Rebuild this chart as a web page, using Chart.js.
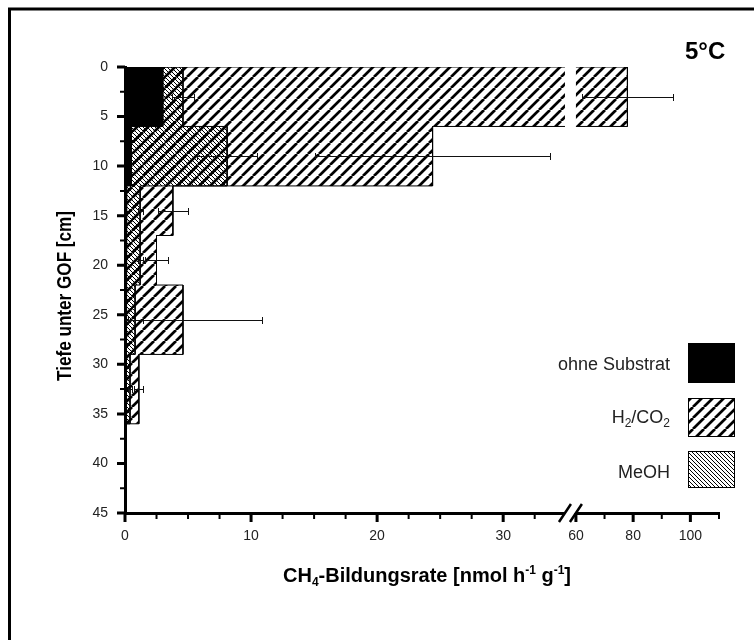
<!DOCTYPE html>
<html>
<head>
<meta charset="utf-8">
<script src="https://cdn.jsdelivr.net/npm/chart.js@4.4.0/dist/chart.umd.min.js"></script>
<style>
html, body { margin: 0; padding: 0; background: #fff; }
</style>
</head>
<body>
<canvas id="mycanvas" width="754" height="640"></canvas>
<script>
// depth classes (cm) and CH4 production rates (nmol h-1 g-1)
var depthEdges = [0, 6, 12, 17, 22, 29, 36];
var ohneSubstrat = [3.0, 0.5, 0.15, 0.1, 0.1, 0.1];
var h2co2 = [78, 24.4, 3.8, 2.5, 4.6, 1.1];
var h2co2Err = [16, 9.3, 1.2, 0.9, 6.3, 0.35];
var meoh = [4.6, 8.1, 1.2, 1.2, 0.8, 0.4];
var meohErr = [0.9, 2.4, 0.2, 0.2, 0.6, 0.15];
var seriesNames = ['ohne Substrat', 'H_{2}/CO_{2}', 'MeOH'];

var yTickValues = [0, 5, 10, 15, 20, 25, 30, 35, 40, 45];
var yMinorValues = [2.5, 7.5, 12.5, 17.5, 22.5, 27.5, 32.5, 37.5, 42.5];
var xTickValues = [0, 10, 20, 30, 60, 80, 100];
var xMinorValues = [2.5, 5, 7.5, 12.5, 15, 17.5, 22.5, 25, 27.5, 32.5, 70, 90, 110];

// broken x axis: 0..breakLow, then breakHigh..xEnd compressed
var breakLow = 34.9, breakHigh = 60, xEnd = 110;
var gapUnits = 0.87, highScale = 0.227;

function disp(v) {
	if (v <= breakLow) return v;
	return breakLow + gapUnits + (v - breakHigh) * highScale;
}

function stepShape(vals) {
	var pts = [{x: 0, y: depthEdges[0]}];
	for (var i = 0; i < vals.length; i++) {
		pts.push({x: disp(vals[i]), y: depthEdges[i]});
		pts.push({x: disp(vals[i]), y: depthEdges[i + 1]});
	}
	pts.push({x: 0, y: depthEdges[vals.length]});
	pts.push({x: 0, y: depthEdges[0]});
	return pts;
}

var canvas = document.getElementById('mycanvas');
var ctx = canvas.getContext('2d');

function makeHatch(size, lw, forward, bg) {
	var t = document.createElement('canvas');
	t.width = size; t.height = size;
	var g = t.getContext('2d');
	if (bg) { g.fillStyle = bg; g.fillRect(0, 0, size, size); }
	g.strokeStyle = '#000';
	g.lineWidth = lw;
	g.beginPath();
	for (var k = -1; k <= 1; k++) {
		if (forward) { g.moveTo(k * size, size); g.lineTo(k * size + size, 0); }
		else { g.moveTo(k * size, 0); g.lineTo(k * size + size, size); }
	}
	g.stroke();
	return ctx.createPattern(t, 'repeat');
}

var h2Pattern = makeHatch(11, 2.7, true, '#fff');
var meohPattern = makeHatch(4, 1, false, null);
var seriesFills = ['#000', h2Pattern, meohPattern];

function parseRich(str) {
	var parts = [], re = /([_^])\{([^}]*)\}/g, last = 0, m;
	while ((m = re.exec(str))) {
		if (m.index > last) parts.push({t: str.slice(last, m.index), k: 0});
		parts.push({t: m[2], k: m[1] === '_' ? 1 : -1});
		last = re.lastIndex;
	}
	if (last < str.length) parts.push({t: str.slice(last), k: 0});
	return parts;
}

function drawRich(c, str, x, y, align, base, small, subDy, supDy) {
	var parts = parseRich(str), w = 0;
	parts.forEach(function(p) {
		c.font = p.k ? small : base;
		p.w = c.measureText(p.t).width;
		w += p.w;
	});
	var cx = align === 'right' ? x - w : (align === 'center' ? x - w / 2 : x);
	c.textAlign = 'left';
	c.textBaseline = 'alphabetic';
	parts.forEach(function(p) {
		c.font = p.k ? small : base;
		c.fillText(p.t, cx, y + (p.k === 1 ? subDy : (p.k === -1 ? supDy : 0)));
		cx += p.w;
	});
}

function drawErrors(c, xs, ys, vals, errs) {
	c.strokeStyle = '#111';
	c.lineWidth = 1;
	for (var i = 0; i < vals.length; i++) {
		var y = Math.round(ys.getPixelForValue((depthEdges[i] + depthEdges[i + 1]) / 2)) + 0.5;
		var lo = vals[i] - errs[i], hi = vals[i] + errs[i];
		var x1 = Math.round(xs.getPixelForValue(disp(Math.max(lo, 0)))) + 0.5;
		var x2 = Math.round(xs.getPixelForValue(disp(hi))) + 0.5;
		c.beginPath();
		c.moveTo(x1, y); c.lineTo(x2, y);
		if (lo > 0) { c.moveTo(x1, y - 3.5); c.lineTo(x1, y + 3.5); }
		c.moveTo(x2, y - 3.5); c.lineTo(x2, y + 3.5);
		c.stroke();
	}
}

var extras = {
	id: 'extras',
	afterDatasetsDraw: function(chart) {
		var c = chart.ctx, xs = chart.scales.x, ys = chart.scales.y, a = chart.chartArea;
		c.save();
		// white gap where the axis is broken
		var g1 = xs.getPixelForValue(disp(breakLow)), g2 = xs.getPixelForValue(disp(breakHigh));
		c.fillStyle = '#fff';
		c.fillRect(g1, a.top - 2, g2 - g1, a.bottom - a.top - 1);
		drawErrors(c, xs, ys, h2co2, h2co2Err);
		drawErrors(c, xs, ys, meoh, meohErr);
		c.restore();
	},
	afterDraw: function(chart) {
		var c = chart.ctx, xs = chart.scales.x, ys = chart.scales.y, a = chart.chartArea;
		c.save();
		c.fillStyle = '#000';
		c.strokeStyle = '#000';

		// break marks on x axis
		var g1 = xs.getPixelForValue(disp(breakLow)), g2 = xs.getPixelForValue(disp(breakHigh));
		var yb = a.bottom;
		c.fillStyle = '#fff';
		c.beginPath();
		c.moveTo(g1 - 6, yb + 9); c.lineTo(g1 + 6, yb - 9);
		c.lineTo(g2 + 6, yb - 9); c.lineTo(g2 - 6, yb + 9);
		c.closePath(); c.fill();
		c.lineWidth = 2.5;
		c.beginPath();
		c.moveTo(g1 - 6, yb + 9); c.lineTo(g1 + 6, yb - 9);
		c.moveTo(g2 - 6, yb + 9); c.lineTo(g2 + 6, yb - 9);
		c.stroke();

		// tick marks
		c.lineWidth = 3;
		c.beginPath();
		yTickValues.forEach(function(v) {
			var y = ys.getPixelForValue(v);
			c.moveTo(a.left - 8, y); c.lineTo(a.left, y);
		});
		xTickValues.forEach(function(v) {
			var x = xs.getPixelForValue(disp(v));
			c.moveTo(x, a.bottom); c.lineTo(x, a.bottom + 9);
		});
		c.stroke();
		c.lineWidth = 2;
		c.beginPath();
		yMinorValues.forEach(function(v) {
			var y = ys.getPixelForValue(v);
			c.moveTo(a.left - 5, y); c.lineTo(a.left, y);
		});
		xMinorValues.forEach(function(v) {
			var x = xs.getPixelForValue(disp(v));
			c.moveTo(x, a.bottom); c.lineTo(x, a.bottom + 6);
		});
		c.stroke();

		// legend
		var boxTop = [343, 398, 451], boxH = [39, 38, 36], textY = [370, 423, 478];
		c.lineWidth = 1;
		for (var i = 0; i < seriesNames.length; i++) {
			c.fillStyle = seriesFills[i];
			c.fillRect(688, boxTop[i], 46, boxH[i]);
			c.strokeStyle = '#000';
			c.strokeRect(688.5, boxTop[i] + 0.5, 46, boxH[i]);
			c.fillStyle = '#222';
			drawRich(c, seriesNames[i], 670, textY[i], 'right', '18px Arial, "Liberation Sans"', '12px Arial, "Liberation Sans"', 4, -7);
		}

		// titles
		c.fillStyle = '#000';
		drawRich(c, 'CH_{4}-Bildungsrate [nmol h^{-1} g^{-1}]', 427, 582, 'center',
			'bold 20px Arial, "Liberation Sans"', 'bold 12px Arial, "Liberation Sans"', 4, -8);

		c.save();
		c.translate(71, 296);
		c.rotate(-Math.PI / 2);
		c.font = 'bold 20px Arial, "Liberation Sans"';
		var yt = 'Tiefe unter GOF [cm]';
		c.scale(170 / c.measureText(yt).width, 1);
		c.textAlign = 'center';
		c.textBaseline = 'alphabetic';
		c.fillText(yt, 0, 0);
		c.restore();

		c.font = 'bold 24px Arial, "Liberation Sans"';
		c.textAlign = 'left';
		c.textBaseline = 'alphabetic';
		c.fillText('5°C', 685, 59);

		// frame
		c.lineWidth = 3;
		c.strokeStyle = '#000';
		c.beginPath();
		c.moveTo(9.5, 640); c.lineTo(9.5, 9); c.lineTo(754, 9);
		c.stroke();
		c.restore();
	}
};

var tickFont = {family: 'Arial, "Liberation Sans"', size: 14};

var chart = new Chart(ctx, {
	type: 'line',
	data: {
		datasets: [
			{
				label: 'ohne Substrat',
				data: stepShape(ohneSubstrat),
				backgroundColor: seriesFills[0],
				borderColor: '#000',
				borderWidth: 1,
				fill: 'shape',
				pointRadius: 0,
				order: 0
			},
			{
				label: 'MeOH',
				data: stepShape(meoh),
				backgroundColor: seriesFills[2],
				borderColor: '#000',
				borderWidth: 1,
				fill: 'shape',
				pointRadius: 0,
				order: 1
			},
			{
				label: 'H2/CO2',
				data: stepShape(h2co2),
				backgroundColor: seriesFills[1],
				borderColor: '#000',
				borderWidth: 1,
				fill: 'shape',
				pointRadius: 0,
				order: 2
			}
		]
	},
	options: {
		responsive: false,
		animation: false,
		devicePixelRatio: 1,
		layout: {padding: {left: 0, top: 67, right: 35, bottom: 0}},
		plugins: {legend: {display: false}, tooltip: {enabled: false}},
		scales: {
			x: {
				type: 'linear',
				min: 0,
				max: disp(xEnd),
				grid: {display: false, drawTicks: false},
				border: {display: true, width: 3, color: '#000'},
				afterBuildTicks: function(axis) {
					axis.ticks = xTickValues.map(function(v) { return {value: disp(v)}; });
				},
				ticks: {
					padding: 15,
					color: '#222',
					font: tickFont,
					autoSkip: false,
					maxRotation: 0,
					callback: function(val, i) { return String(xTickValues[i]); }
				},
				afterFit: function(axis) { axis.height = 127; }
			},
			y: {
				type: 'linear',
				reverse: true,
				min: 0,
				max: 45,
				grid: {display: false, drawTicks: false},
				border: {display: true, width: 3, color: '#000'},
				ticks: {stepSize: 5, padding: 17, color: '#222', font: tickFont},
				afterFit: function(axis) { axis.width = 125; }
			}
		}
	},
	plugins: [extras]
});
</script>
</body>
</html>
